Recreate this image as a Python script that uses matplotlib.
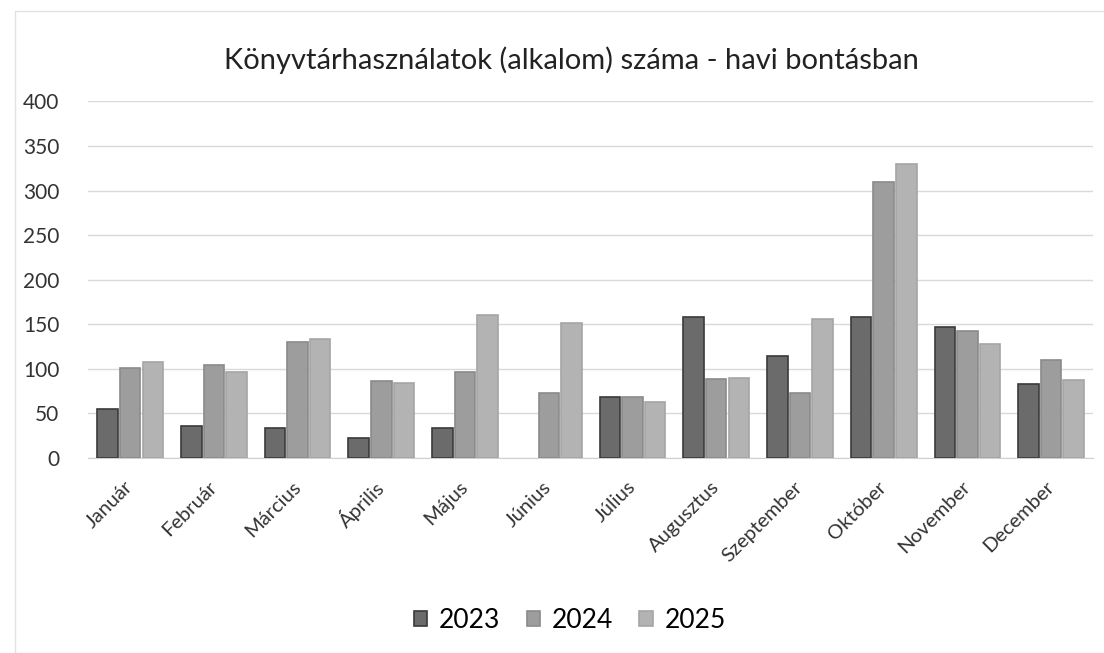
import numpy as np
import matplotlib.pyplot as plt
from matplotlib.patches import Rectangle

plt.rcParams['font.family'] = ['Lato', 'DejaVu Sans']

honapok = ['Január', 'Február', 'Március', 'Április', 'Május', 'Június',
           'Július', 'Augusztus', 'Szeptember', 'Október', 'November', 'December']
ev_2023 = [55, 36, 34, 22, 34, 0, 68, 158, 115, 158, 147, 83]
ev_2024 = [101, 104, 130, 86, 97, 73, 68, 89, 73, 310, 142, 110]
ev_2025 = [108, 96, 134, 84, 160, 152, 63, 90, 156, 330, 128, 87]
evek = ['2023', '2024', '2025']

fig = plt.figure(figsize=(11.04, 6.53), dpi=100)

# halvany keret a diagram korul
fig.patches.append(Rectangle((15 / 1104, 0.0), 1.0, 1 - 11 / 653,
                             transform=fig.transFigure, fill=False,
                             edgecolor='#e2e2e2', linewidth=1))

ax = fig.add_axes([0.08, 0.2986, 0.91, 0.546])

x = np.arange(len(honapok))
w = 0.245
szinek = ['#6b6b6b', '#9d9d9d', '#b3b3b3']
szelek = ['#3a3a3a', '#8a8a8a', '#a5a5a5']
for i, (adat, nev) in enumerate(zip([ev_2023, ev_2024, ev_2025], evek)):
    vastag = [1.2 if v > 0 else 0 for v in adat]
    ax.bar(x + (i - 1) * 0.27, adat, w, color=szinek[i], edgecolor=szelek[i],
           linewidth=vastag, label=nev, zorder=3)

ax.set_ylim(0, 400)
ax.set_xlim(-0.5, len(honapok) - 0.5)
ax.set_yticks(range(0, 401, 50))
ax.yaxis.grid(True, color='#d9d9d9', linewidth=1, zorder=0)
ax.tick_params(axis='y', length=0, labelsize=15, colors='#333333', pad=21)
ax.tick_params(axis='x', length=0, labelsize=14.5, colors='#333333', pad=19)
ax.set_xticks(x)
ax.set_xticklabels(honapok, rotation=45, ha='right', va='center',
                   rotation_mode='anchor')
for s in ['top', 'right', 'left']:
    ax.spines[s].set_visible(False)
ax.spines['bottom'].set_color('#d0d0d0')

fig.text(0.518, 0.908, 'Könyvtárhasználatok (alkalom) száma - havi bontásban',
         ha='center', va='center', fontsize=21, color='#222222')

fig.legend(loc='center', bbox_to_anchor=(0.516, 0.05), ncol=3, frameon=False,
           fontsize=19, handlelength=0.5, handleheight=0.5, columnspacing=1.0,
           handletextpad=0.45)

fig.savefig('out.png', dpi=100)
